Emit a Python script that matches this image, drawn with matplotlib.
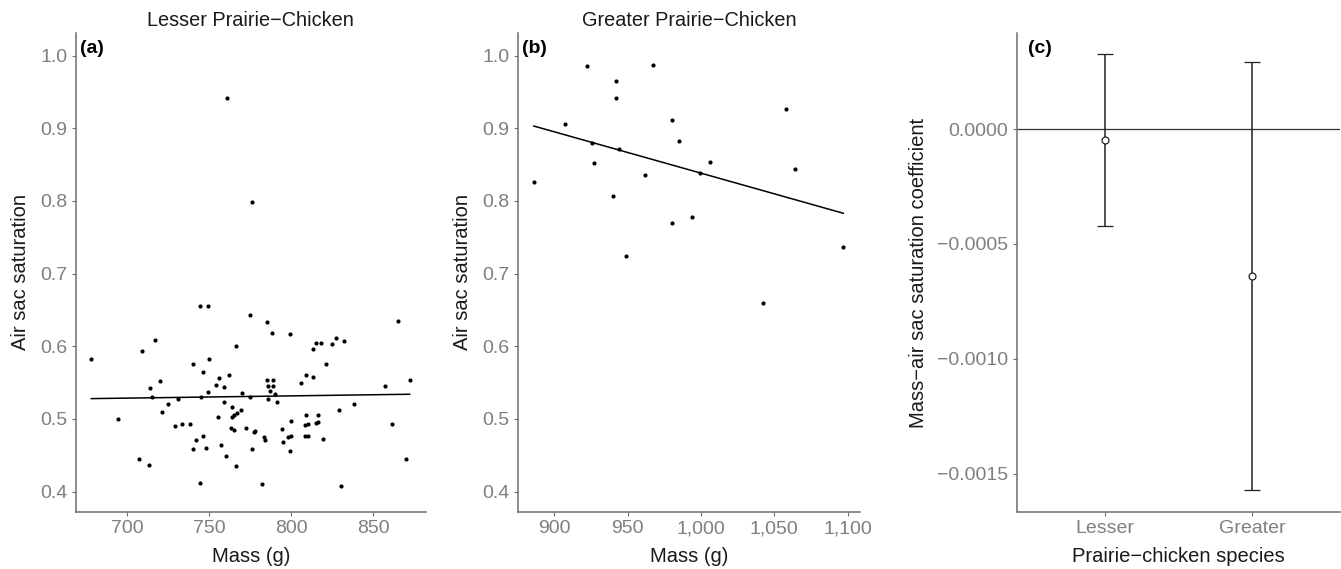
import matplotlib
matplotlib.use("Agg")
import matplotlib.pyplot as plt
import numpy as np
from matplotlib.ticker import FuncFormatter

plt.rcParams['font.family'] = ['Liberation Sans', 'DejaVu Sans']

# panel (a) Lesser Prairie-Chicken
lesser_mass = [678, 709, 717, 744, 749, 775, 766, 750, 740, 746, 756, 762, 754, 759, 714, 720, 749, 770, 715, 731, 745,
               785, 788, 799, 813, 815, 818, 825, 827, 832, 821, 865, 809, 813, 806, 785, 789, 786, 789, 787, 790, 775,
               786, 857, 872,
               759, 725, 721, 694, 764, 769, 767, 765, 764, 755, 729, 733, 738, 763, 765, 772, 746, 742, 757, 748, 740,
               760, 707, 713, 766, 744,
               791, 829, 838, 861, 777, 778, 783, 784, 776, 794, 800, 795, 798, 800, 799, 809, 808, 810, 808, 810, 816,
               815, 816, 819, 870, 782, 830,
               761, 776]
lesser_sat = [0.583, 0.593, 0.608, 0.655, 0.656, 0.643, 0.601, 0.583, 0.576, 0.564, 0.556, 0.560, 0.547, 0.544, 0.543,
              0.552, 0.537, 0.536, 0.530, 0.528, 0.530,
              0.633, 0.618, 0.617, 0.596, 0.604, 0.605, 0.603, 0.611, 0.607, 0.575, 0.635, 0.560, 0.558, 0.550, 0.553,
              0.553, 0.545, 0.545, 0.539, 0.534, 0.530, 0.528, 0.545, 0.554,
              0.523, 0.520, 0.509, 0.500, 0.516, 0.513, 0.508, 0.506, 0.503, 0.503, 0.491, 0.493, 0.493, 0.487, 0.485,
              0.488, 0.477, 0.471, 0.464, 0.460, 0.458, 0.449, 0.445, 0.437, 0.435, 0.412,
              0.524, 0.512, 0.520, 0.493, 0.482, 0.483, 0.475, 0.471, 0.458, 0.486, 0.497, 0.468, 0.475, 0.477, 0.456,
              0.505, 0.492, 0.493, 0.477, 0.476, 0.506, 0.495, 0.496, 0.473, 0.445, 0.410, 0.408,
              0.942, 0.798]
lesser_fit_mass = [678, 872]
lesser_fit_sat = [0.528, 0.534]

# panel (b) Greater Prairie-Chicken
greater_mass = [886, 907, 922, 926, 927, 942, 942, 944, 940, 949, 962, 967, 980, 980, 985, 994, 999, 1006,
                1058, 1064, 1042, 1097]
greater_sat = [0.826, 0.906, 0.985, 0.880, 0.852, 0.965, 0.942, 0.872, 0.807, 0.724, 0.836, 0.987, 0.911, 0.770,
               0.882, 0.778, 0.839, 0.854, 0.926, 0.844, 0.660, 0.737]
greater_fit_mass = [886, 1097]
greater_fit_sat = [0.903, 0.783]

# panel (c) coefficients
species = ['Lesser', 'Greater']
coef = [-0.0000473, -0.00064]
coef_low = [-0.00042, -0.001571]
coef_high = [0.000327, 0.00029]

W, H = 1341, 569
fig = plt.figure(figsize=(W / 100, H / 100), dpi=100)

tick_col = '#7f7f7f'
axis_col = '#6e6e6e'
text_col = '#1a1a1a'


def px(l, r, t=33, b=512):
    return [l / W, (H - b) / H, (r - l) / W, (b - t) / H]


def style(ax):
    for s in ['top', 'right']:
        ax.spines[s].set_visible(False)
    for s in ['left', 'bottom']:
        ax.spines[s].set_color(axis_col)
        ax.spines[s].set_linewidth(1.1)
    ax.tick_params(colors=axis_col, labelcolor=tick_col, labelsize=14, length=3, width=0.8, pad=3)


ax1 = fig.add_axes(px(75.7, 426))
ax2 = fig.add_axes(px(517.7, 860))
ax3 = fig.add_axes(px(1016.7, 1340))

# (a)
ax1.scatter(lesser_mass, lesser_sat, s=9, color='black', linewidths=0)
ax1.plot(lesser_fit_mass, lesser_fit_sat, color='black', lw=1.1)
ax1.set_xlim(668.5, 882)
ax1.set_ylim(0.372, 1.031)
ax1.set_xticks([700, 750, 800, 850])
ax1.set_yticks([0.4, 0.5, 0.6, 0.7, 0.8, 0.9, 1.0])
ax1.yaxis.set_major_formatter(FuncFormatter(lambda v, p: f'{v:.1f}'))
ax1.set_xlabel('Mass (g)', fontsize=14.5, color=text_col, labelpad=7)
ax1.set_ylabel('Air sac saturation', fontsize=14.5, color=text_col, labelpad=7)
ax1.set_title('Lesser Prairie\u2212Chicken', fontsize=14.3, color=text_col, pad=5)
ax1.text(0.012, 0.985, '(a)', transform=ax1.transAxes, fontsize=14, fontweight='bold', va='top', ha='left')
style(ax1)

# (b)
ax2.scatter(greater_mass, greater_sat, s=9, color='black', linewidths=0)
ax2.plot(greater_fit_mass, greater_fit_sat, color='black', lw=1.1)
ax2.set_xlim(875, 1108.4)
ax2.set_ylim(0.372, 1.031)
ax2.set_xticks([900, 950, 1000, 1050, 1100])
ax2.xaxis.set_major_formatter(FuncFormatter(lambda v, p: f'{v:,.0f}'))
ax2.set_yticks([0.4, 0.5, 0.6, 0.7, 0.8, 0.9, 1.0])
ax2.yaxis.set_major_formatter(FuncFormatter(lambda v, p: f'{v:.1f}'))
ax2.set_xlabel('Mass (g)', fontsize=14.5, color=text_col, labelpad=7)
ax2.set_ylabel('Air sac saturation', fontsize=14.5, color=text_col, labelpad=7)
ax2.set_title('Greater Prairie\u2212Chicken', fontsize=14.3, color=text_col, pad=5)
ax2.text(0.012, 0.985, '(b)', transform=ax2.transAxes, fontsize=14, fontweight='bold', va='top', ha='left')
style(ax2)

# (c)
xpos = np.arange(1, len(species) + 1)
ax3.axhline(0, color='#333333', lw=0.9)
yerr = [np.array(coef) - np.array(coef_low), np.array(coef_high) - np.array(coef)]
ax3.errorbar(xpos, coef, yerr=yerr, fmt='o', color='#222222', ecolor='#222222', elinewidth=1.1,
             capsize=6, capthick=1.1, markersize=5, markerfacecolor='white', markeredgecolor='#222222',
             markeredgewidth=0.9)
ax3.set_xlim(0.4, 2.6)
ax3.set_ylim(-0.001666, 0.000418)
ax3.set_xticks(xpos)
ax3.set_xticklabels(species)
ax3.set_yticks([-0.0015, -0.0010, -0.0005, 0.0])
ax3.yaxis.set_major_formatter(FuncFormatter(lambda v, p: f'{v:.4f}'.replace('-', '\u2212') if abs(v) > 1e-12 else '0.0000'))
ax3.set_xlabel('Prairie\u2212chicken species', fontsize=14.5, color=text_col, labelpad=7)
ax3.set_ylabel('Mass\u2212air sac saturation coefficient', fontsize=14.5, color=text_col, labelpad=7)
ax3.text(0.035, 0.985, '(c)', transform=ax3.transAxes, fontsize=14, fontweight='bold', va='top', ha='left')
style(ax3)

fig.savefig('out.png', dpi=100)
